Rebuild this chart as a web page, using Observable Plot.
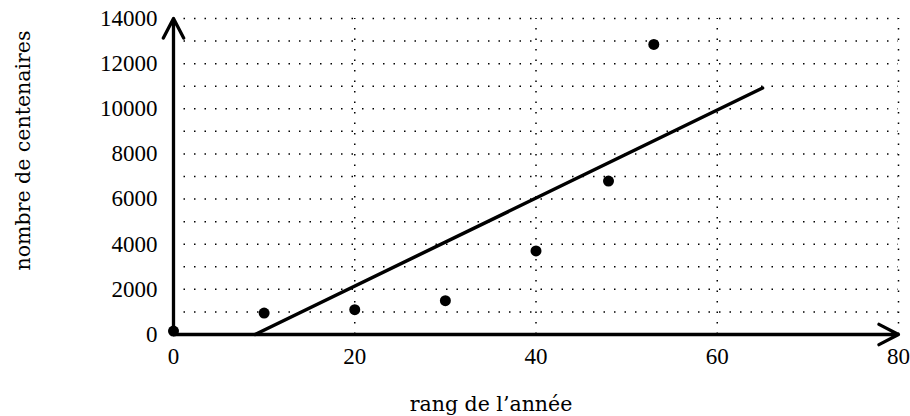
<!DOCTYPE html>
<html>
<head>
<meta charset="utf-8">
<script src="https://cdn.jsdelivr.net/npm/d3@7"></script>
<script src="https://cdn.jsdelivr.net/npm/@observablehq/plot@0.6"></script>
<style>
  html, body { margin: 0; padding: 0; background: #fff; }
  #chart { width: 910px; height: 416px; }
</style>
</head>
<body>
<div id="chart"></div>
<script>
// Data
const rang = [0, 10, 20, 30, 40, 48, 53];
const centenaires = [150, 950, 1100, 1500, 3700, 6800, 12850];
// Fitted line endpoints
const ajustRang = [9, 65];
const ajustValeur = [0, 10920];
// Axes / ticks
const xDomain = [0, 80];
const yDomain = [0, 14000];
const xTicks = [0, 20, 40, 60, 80];
const yTicks = [0, 2000, 4000, 6000, 8000, 10000, 12000, 14000];
const gridX = [20, 40, 60, 80];
const gridY = [1000, 2000, 3000, 4000, 5000, 6000, 7000, 8000, 9000, 10000, 11000, 12000, 13000, 14000];
const xLabel = "rang de l’année";
const yLabel = "nombre de centenaires";

const points = rang.map((r, i) => ({rang: r, n: centenaires[i]}));
const ajust = ajustRang.map((r, i) => ({rang: r, n: ajustValeur[i]}));
const axes = [
  {x1: xDomain[0], y1: yDomain[0], x2: xDomain[1], y2: yDomain[0]},
  {x1: xDomain[0], y1: yDomain[0], x2: xDomain[0], y2: yDomain[1]}
];

const dots = "1.5 9";

const chart = Plot.plot({
  width: 910,
  height: 416,
  marginLeft: 173,
  marginRight: 12,
  marginTop: 18,
  marginBottom: 82,
  style: {fontFamily: "Liberation Serif", fontSize: "23px", background: "#fff", color: "#000", overflow: "visible"},
  x: {domain: xDomain, ticks: xTicks, tickSize: 0, tickPadding: 13, label: null},
  y: {domain: yDomain, ticks: yTicks, tickSize: 0, tickPadding: 16, label: null, tickFormat: d => String(d)},
  marks: [
    Plot.ruleY(gridY, {y: d => d, x1: xDomain[0], x2: xDomain[1], stroke: "#000", strokeWidth: 1.5, strokeDasharray: dots}),
    Plot.ruleX(gridX, {x: d => d, y1: yDomain[0], y2: yDomain[1], stroke: "#000", strokeWidth: 1.5, strokeDasharray: dots}),
    Plot.arrow(axes, {x1: "x1", y1: "y1", x2: "x2", y2: "y2", stroke: "#000", strokeWidth: 3.3, headLength: 10, headAngle: 55}),
    Plot.line(ajust, {x: "rang", y: "n", stroke: "#000", strokeWidth: 3.5}),
    Plot.dot(points, {x: "rang", y: "n", r: 5.5, fill: "#000", stroke: "none"}),
    Plot.text([xLabel], {text: d => d, frameAnchor: "bottom", textAnchor: "middle", lineAnchor: "middle", dx: -45, dy: 70, fill: "#000", fontFamily: "DejaVu Serif", fontSize: 20.5}),
    Plot.text([yLabel], {text: d => d, frameAnchor: "left", textAnchor: "middle", lineAnchor: "middle", rotate: -90, dx: -150, dy: -26, fill: "#000", fontFamily: "DejaVu Serif", fontSize: 20.5})
  ]
});
document.getElementById("chart").appendChild(chart);
</script>
</body>
</html>
